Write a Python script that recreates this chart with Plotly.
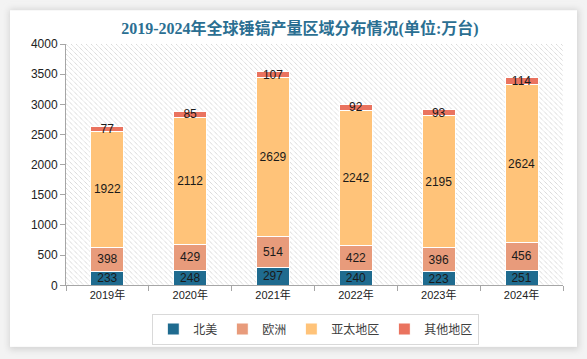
import plotly.graph_objects as go
import base64

years = ["2019年", "2020年", "2021年", "2022年", "2023年", "2024年"]
north_america = [233, 248, 297, 240, 223, 251]
europe = [398, 429, 514, 422, 396, 456]
asia_pacific = [1922, 2112, 2629, 2242, 2195, 2624]
others = [77, 85, 107, 92, 93, 114]

series = [
    ("北美", north_america, "#1F6B8F"),
    ("欧洲", europe, "#E89B7B"),
    ("亚太地区", asia_pacific, "#FFC379"),
    ("其他地区", others, "#EA735F"),
]

W, H = 587, 359
ML, MR, MT, MB = 66, 24, 44, 72

fig = go.Figure()
for name, vals, color in series:
    fig.add_trace(go.Bar(
        name=name, x=years, y=vals,
        marker=dict(color=color, line=dict(color="white", width=1)),
        text=[str(v) for v in vals], textposition="inside", textangle=0,
        insidetextanchor="middle", constraintext="none",
        textfont=dict(size=12, color="#1a1a1a", family="Liberation Sans, Noto Sans CJK SC"),
        width=0.4, cliponaxis=False,
    ))

# background decoration: white panel with soft gray surround and hatched plot area
pw, ph = W - ML - MR, H - MT - MB
svg = f'''<svg xmlns="http://www.w3.org/2000/svg" width="{W}" height="{H}">
<defs><pattern id="p" x="{ML}" y="{MT}" width="5" height="5" patternUnits="userSpaceOnUse">
<path d="M-1,-1 L6,6 M-1,4 L1,6 M4,-1 L6,1" stroke="#c4c4c4" stroke-width="0.9" stroke-dasharray="1,0.8"/>
</pattern>
<filter id="s" x="-5%" y="-5%" width="110%" height="110%"><feGaussianBlur stdDeviation="3"/></filter></defs>
<rect width="{W}" height="{H}" fill="#f3f3f3"/>
<rect x="9" y="9" width="570" height="343" fill="#d4d4d4" filter="url(#s)"/>
<rect x="10" y="10" width="567" height="339" fill="white"/>
<rect x="{ML}" y="{MT}" width="{pw}" height="{ph}" fill="url(#p)"/></svg>'''
src = "data:image/svg+xml;base64," + base64.b64encode(svg.encode()).decode()

fig.update_layout(
    width=W, height=H,
    barmode="stack",
    paper_bgcolor="#f3f3f3",
    plot_bgcolor="rgba(0,0,0,0)",
    margin=dict(l=ML, r=MR, t=MT, b=MB),
    title=dict(text="<b>2019-2024年全球锤镐产量区域分布情况(单位:万台)</b>",
               x=0.511, xanchor="center", y=1 - 28 / H, yanchor="middle",
               font=dict(size=16, color="#2B6F92", family="Liberation Serif, Noto Sans CJK SC")),
    font=dict(family="Liberation Sans, Noto Sans CJK SC", size=11, color="#333333"),
    xaxis=dict(showline=True, linecolor="#a6a6a6", ticks="outside", tickson="boundaries",
               tickcolor="#a6a6a6", ticklen=5, showgrid=False,
               tickfont=dict(size=11, color="#222222")),
    yaxis=dict(range=[0, 4000], dtick=500, showline=True, linecolor="#a6a6a6",
               ticks="outside", tickcolor="#a6a6a6", ticklen=5, showgrid=False,
               zeroline=False, tickfont=dict(size=12, color="#222222")),
    legend=dict(orientation="h", xref="container", yref="container",
                x=0.538, xanchor="center", y=1 - 329 / H, yanchor="middle",
                bgcolor="white", bordercolor="#d9d9d9", borderwidth=1, itemwidth=30,
                font=dict(size=12, color="#404040"), traceorder="normal"),
    images=[dict(source=src, xref="paper", yref="paper",
                 x=-ML / pw, y=(H - MB) / ph, sizex=W / pw, sizey=H / ph,
                 xanchor="left", yanchor="top", sizing="stretch", layer="below")],
    showlegend=True,
)

fig.write_html("out.html", config={"displayModeBar": False},
               post_script="document.body.style.margin='0';document.body.style.overflow='hidden';")
